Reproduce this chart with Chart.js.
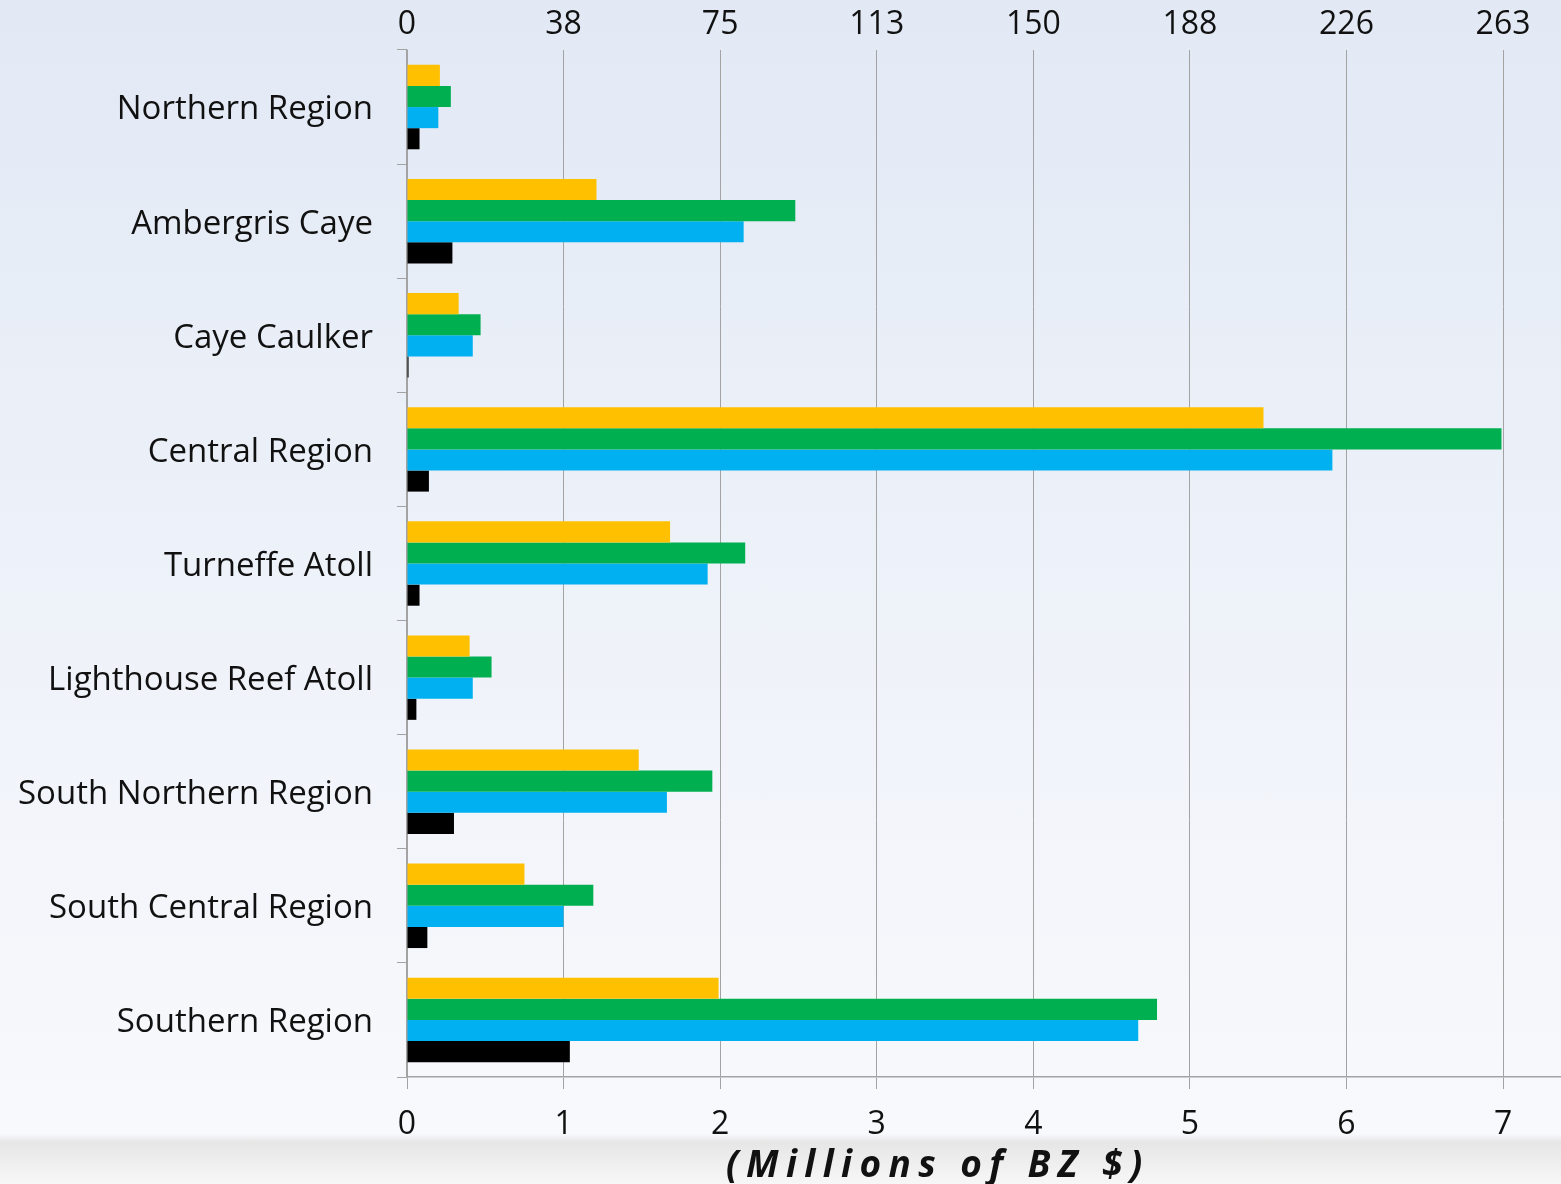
<!DOCTYPE html>
<html>
<head>
<meta charset="utf-8">
<title>Regions chart</title>
<script src="https://cdn.jsdelivr.net/npm/chart.js@4.4.0/dist/chart.umd.min.js"></script>
<style>
  html, body { margin: 0; padding: 0; }
  body {
    width: 1561px;
    height: 1184px;
    overflow: hidden;
    position: relative;
    background: linear-gradient(to bottom, #e2e9f5 0px, #eef2f9 600px, #f8f9fc 1134px, #e6e6e6 1142px, #f7f7f7 1184px);
  }
  #wrap { position: absolute; left: 0; top: 0; width: 1561px; height: 1184px; }
  #unit {
    position: absolute;
    left: 726px;
    top: 1137px;
    font: italic bold 37px "Open Sans", Lato, sans-serif;
    letter-spacing: 7.4px;
    color: #111;
    white-space: nowrap;
  }
</style>
</head>
<body>
<div id="wrap"><canvas id="chart" width="1561" height="1184"></canvas></div>
<div id="unit">(Millions of BZ $)</div>
<script>
var regions = ["Northern Region", "Ambergris Caye", "Caye Caulker", "Central Region", "Turneffe Atoll",
  "Lighthouse Reef Atoll", "South Northern Region", "South Central Region", "Southern Region"];

// four series, top to bottom in each group
var seriesYellow = [0.21, 1.21, 0.33, 5.47, 1.68, 0.40, 1.48, 0.75, 1.99];
var seriesGreen  = [0.28, 2.48, 0.47, 6.99, 2.16, 0.54, 1.95, 1.19, 4.79];
var seriesBlue   = [0.20, 2.15, 0.42, 5.91, 1.92, 0.42, 1.66, 1.00, 4.67];
var seriesBlack  = [0.08, 0.29, 0.01, 0.14, 0.08, 0.06, 0.30, 0.13, 1.04];

var bottomTicks = [0, 1, 2, 3, 4, 5, 6, 7];
var topTickLabels = ["0", "38", "75", "113", "150", "188", "226", "263"];

var fontFam = "'Open Sans', Lato, sans-serif";
var gridGray = "#a3a3a3";

function intTicks(scale) {
  scale.ticks = bottomTicks.map(function (v) { return { value: v }; });
}

var ctx = document.getElementById("chart");
var myChart = new Chart(ctx, {
  type: "bar",
  data: {
    labels: regions,
    datasets: [
      { label: "Yellow", backgroundColor: "#ffc000", data: seriesYellow },
      { label: "Green", backgroundColor: "#00b050", data: seriesGreen },
      { label: "Blue", backgroundColor: "#00b0f0", data: seriesBlue },
      { label: "Black", backgroundColor: "#000000", data: seriesBlack },
    ],
  },
  options: {
    indexAxis: "y",
    responsive: false,
    animation: false,
    events: [],
    layout: { padding: 0 },
    datasets: { bar: { categoryPercentage: 0.74, barPercentage: 1.0 } },
    plugins: { legend: { display: false }, tooltip: { enabled: false }, title: { display: false } },
    scales: {
      x: {
        position: "bottom",
        min: 0,
        max: 7.37,
        afterBuildTicks: intTicks,
        afterFit: function (s) { s.height = 107; },
        border: { display: true, color: gridGray, width: 1.5 },
        grid: { color: gridGray, lineWidth: 1, tickLength: 12 },
        ticks: { color: "#111", padding: 17, font: { family: fontFam, size: 32 } },
      },
      x2: {
        position: "top",
        min: 0,
        max: 7.37,
        afterBuildTicks: intTicks,
        afterFit: function (s) { s.height = 50; },
        border: { display: false },
        grid: { drawOnChartArea: false, drawTicks: false },
        ticks: {
          color: "#111",
          padding: 6,
          font: { family: fontFam, size: 32 },
          callback: function (v, i) { return topTickLabels[i]; },
        },
      },
      y: {
        afterFit: function (s) { s.width = 407; },
        border: { display: true, color: gridGray, width: 1.5 },
        grid: { offset: true, drawOnChartArea: false, color: gridGray, tickLength: 10 },
        ticks: { color: "#111", padding: 24, labelOffset: 3, font: { family: fontFam, size: 33 } },
      },
    },
  },
});
</script>
</body>
</html>
